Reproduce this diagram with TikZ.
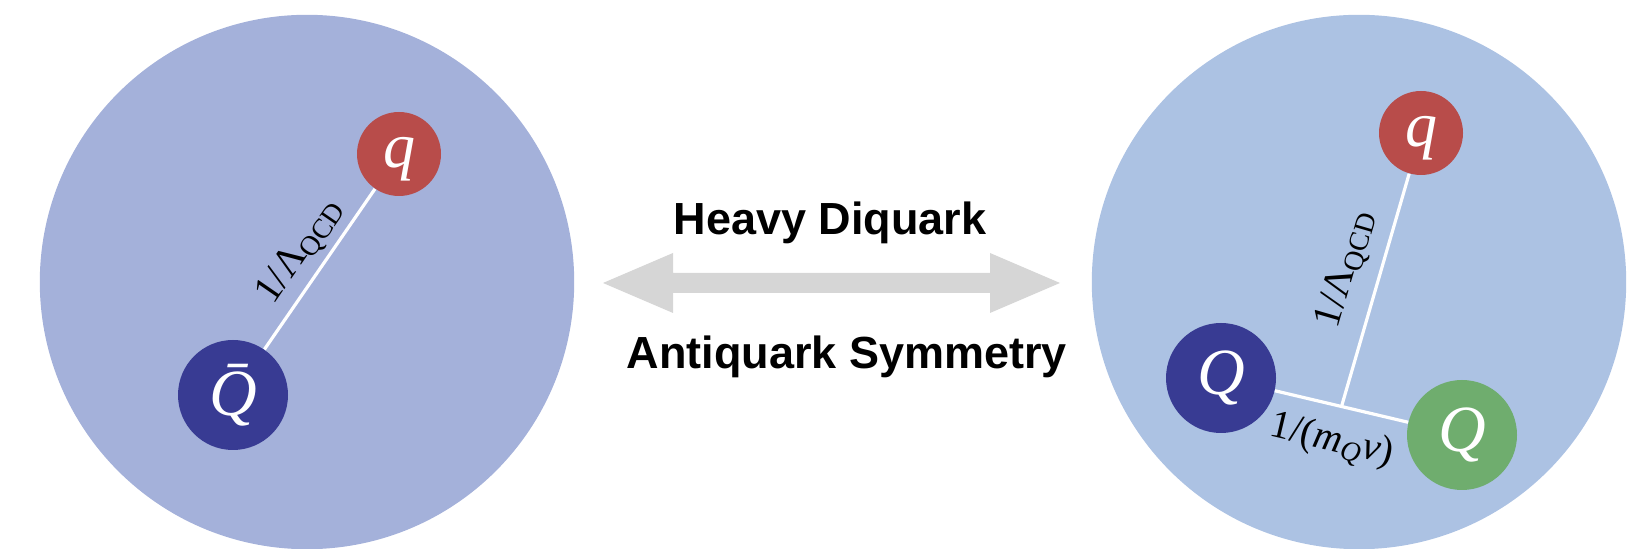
\documentclass[tikz,border=0pt]{standalone}
\usepackage{fontspec}
\usetikzlibrary{calc}
\newfontfamily\hv{Liberation Sans}
\newfontfamily\tms{Liberation Serif}
\definecolor{leftbg}{RGB}{164,177,218}
\definecolor{rightbg}{RGB}{172,194,227}
\definecolor{qred}{RGB}{184,76,74}
\definecolor{qblue}{RGB}{56,59,147}
\definecolor{qgreen}{RGB}{111,173,110}
\definecolor{arrowgray}{RGB}{214,214,214}
\tikzset{
  quark/.style={circle, draw=none, text=white, inner sep=0pt},
  light/.style={quark, minimum size=42pt, text depth=0pt, text height=14pt,
    font=\tms\itshape\fontsize{32pt}{32pt}\selectfont},
  heavy/.style={quark, minimum size=55pt,
    font=\tms\itshape\fontsize{33pt}{33pt}\selectfont},
  link/.style={draw=white, line width=1.6pt},
  lbl/.style={inner sep=1pt, text=black, font=\tms\fontsize{20pt}{24pt}\selectfont},
  title/.style={anchor=base, inner sep=0pt, font=\hv\bfseries\fontsize{22.5pt}{27pt}\selectfont}
}
\begin{document}
\begin{tikzpicture}[x=0.5pt,y=-0.5pt]
\useasboundingbox (0,0) rectangle (1639,549);
\clip (0,0) rectangle (1639,549);
% hadron backgrounds
\fill[leftbg] (307,282) circle[radius=133.6pt];
\fill[rightbg] (1359,282) circle[radius=133.6pt];
% left hadron
\node[light, fill=qred] (ql) at (399,154) {q};
\node[heavy, fill=qblue] (Qb) at (233,395) {\={Q}};
\draw[link] (Qb) -- node[lbl, sloped, above=1.5pt, pos=0.52] {1/Λ\textsubscript{QCD}} (ql);
% right hadron
\node[light, fill=qred] (qr) at (1421,133) {q};
\node[heavy, fill=qblue] (Q1) at (1221,378) {Q};
\node[heavy, fill=qgreen] (Q2) at (1462,435) {Q};
\coordinate (j) at ($(Q1)!0.5!(Q2)$);
\draw[link] (Q1) -- node[lbl, sloped, below=7pt, pos=0.49] {1/(\textit{m}\textsubscript{\textit{Q}}\textit{ν})} (Q2);
\draw[link] (j) -- node[lbl, sloped, above=5.5pt, pos=0.55] {1/Λ\textsubscript{QCD}} (qr);
% double arrow
\fill[arrowgray] (603,283) -- (673,253) -- (673,273) -- (990,273) -- (990,253)
  -- (1060,283) -- (990,313) -- (990,293) -- (673,293) -- (673,313) -- cycle;
\node[title] (t1) at (830,235) {Heavy Diquark};
\node[title] (t2) at (847,369) {Antiquark Symmetry};
\end{tikzpicture}
\end{document}
